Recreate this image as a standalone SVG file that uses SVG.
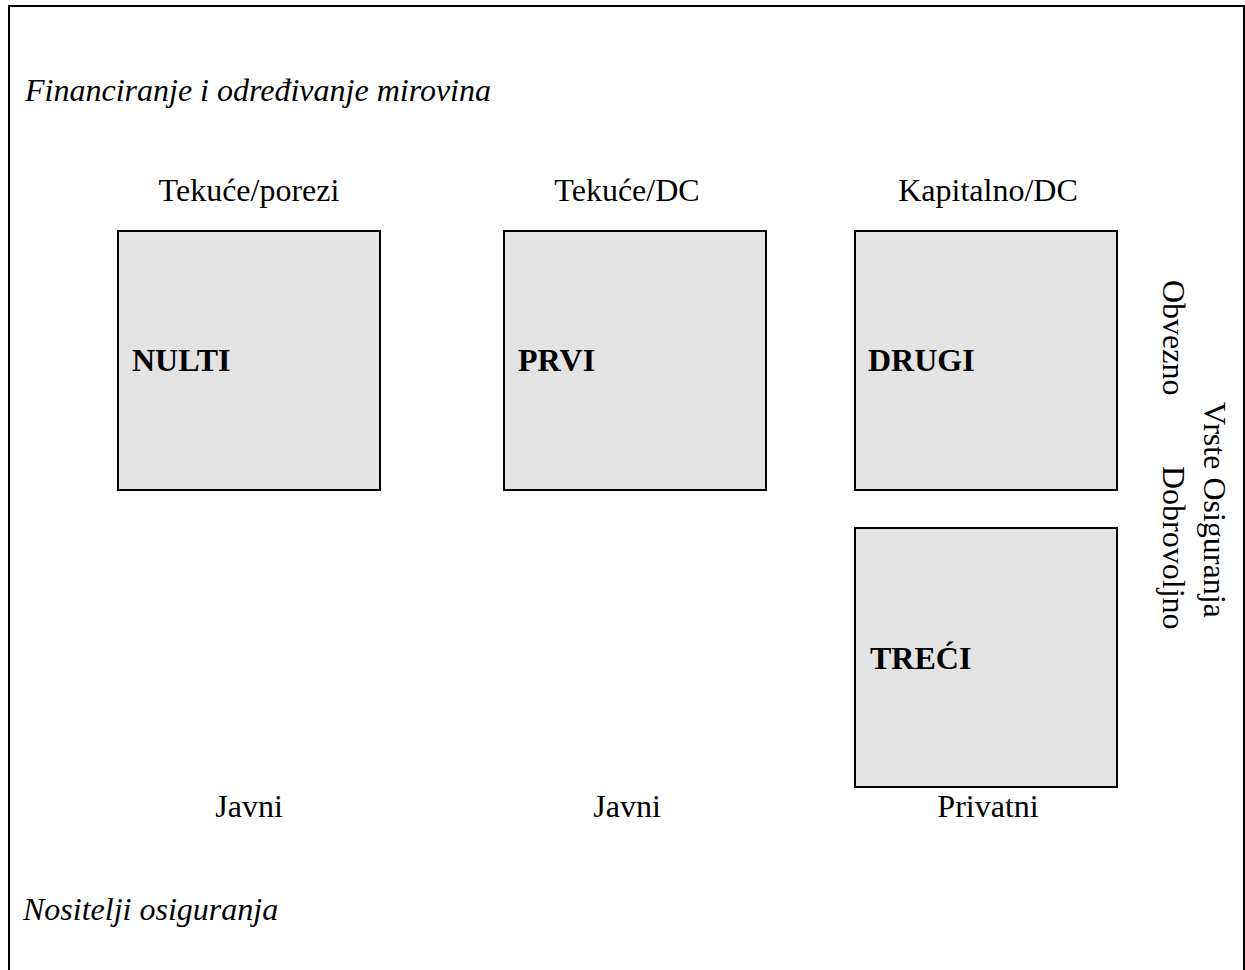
<svg xmlns="http://www.w3.org/2000/svg" width="1245" height="970" viewBox="0 0 1245 970">
<style>
text{font-family:"Liberation Serif","Times New Roman",serif;font-size:32px;fill:#000}
.it{font-style:italic}
.b{font-weight:bold}
.c{text-anchor:middle}
.box{fill:#e3e3e3;stroke:#000;stroke-width:2}
</style>
<rect width="1245" height="970" fill="#fff"/>
<path d="M9,972 V6 H1244 V972" fill="none" stroke="#000" stroke-width="2"/>
<text class="it" x="25" y="101">Financiranje i određivanje mirovina</text>
<text class="c" x="249" y="201">Tekuće/porezi</text>
<text class="c" x="627" y="201">Tekuće/DC</text>
<text class="c" x="988" y="201">Kapitalno/DC</text>
<g id="nulti"><rect class="box" x="118" y="231" width="262" height="259"/><text class="b" x="132" y="371">NULTI</text></g>
<g id="prvi"><rect class="box" x="504" y="231" width="262" height="259"/><text class="b" x="518" y="371">PRVI</text></g>
<g id="drugi"><rect class="box" x="855" y="231" width="262" height="259"/><text class="b" x="868" y="371">DRUGI</text></g>
<g id="treci"><rect class="box" x="855" y="528" width="262" height="259"/><text class="b" x="870" y="669">TREĆI</text></g>
<g id="connectors"></g>
<text transform="translate(1163,280) rotate(90)">Obvezno</text>
<text transform="translate(1204,402) rotate(90)">Vrste Osiguranja</text>
<text transform="translate(1163,466) rotate(90)">Dobrovoljno</text>
<text class="c" x="249" y="817">Javni</text>
<text class="c" x="627" y="817">Javni</text>
<text class="c" x="988" y="817">Privatni</text>
<text class="it" x="23" y="920">Nositelji osiguranja</text>
</svg>
